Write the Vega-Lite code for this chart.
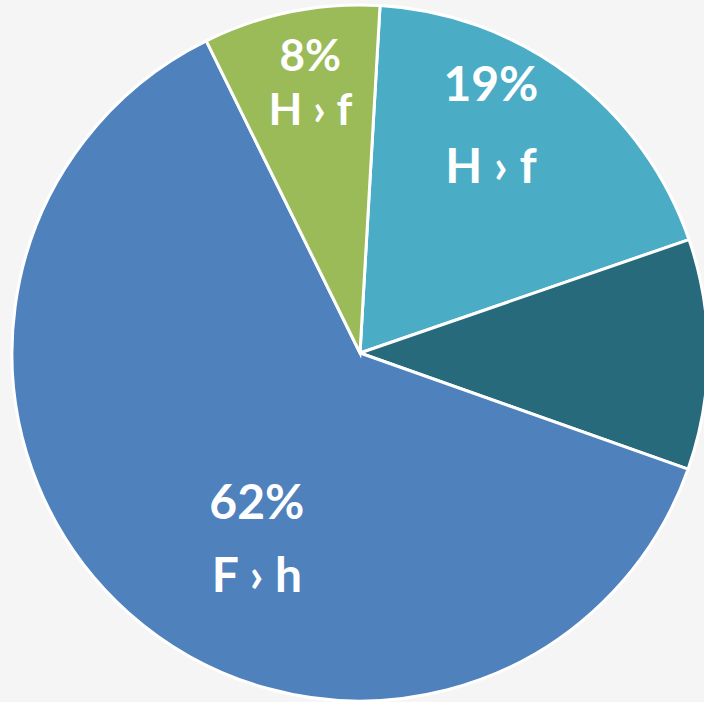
{
  "$schema": "https://vega.github.io/schema/vega-lite/v6.json",
  "autosize": "none",
  "padding": {"left": 16, "top": 4, "right": 0, "bottom": 0},
  "width": 688,
  "height": 698,
  "background": "#f5f5f5",
  "config": {"view": {"stroke": null}},
  "data": {
    "values": [
      {"slice": "S1", "idx": 1, "value": 18.8, "txt": "19%\nH › f"},
      {"slice": "S2", "idx": 2, "value": 10.7, "txt": ""},
      {"slice": "S3", "idx": 3, "value": 62.3, "txt": "62%\nF › h"},
      {"slice": "S4", "idx": 4, "value": 8.2, "txt": "8%\nH › f"}
    ]
  },
  "encoding": {
    "theta": {"field": "value", "type": "quantitative", "stack": true, "scale": {"range": [0.0576, 6.3408]}},
    "order": {"field": "idx", "type": "quantitative"}
  },
  "layer": [
    {
      "mark": {"type": "arc", "outerRadius": 348, "stroke": "#ffffff", "strokeWidth": 3},
      "encoding": {
        "color": {"field": "slice", "type": "nominal", "legend": null,
          "scale": {"domain": ["S1", "S2", "S3", "S4"], "range": ["#4bacc6", "#276a7c", "#4f81bd", "#9bbb59"]}}
      }
    },
    {
      "mark": {"type": "text", "radius": 250, "dx": -20, "dy": -67, "font": "Lato", "fontWeight": "bold", "fontSize": 48, "color": "#ffffff", "lineBreak": "\n", "lineHeight": 82, "align": "center", "baseline": "middle"},
      "encoding": {"text": {"condition": {"test": "datum.slice === 'S1'", "field": "txt"}, "value": ""}}
    },
    {
      "mark": {"type": "text", "radius": 250, "dx": 63, "dy": -35, "font": "Lato", "fontWeight": "bold", "fontSize": 48, "color": "#ffffff", "lineBreak": "\n", "lineHeight": 73, "align": "center", "baseline": "middle"},
      "encoding": {"text": {"condition": {"test": "datum.slice === 'S3'", "field": "txt"}, "value": ""}}
    },
    {
      "mark": {"type": "text", "radius": 250, "dx": 0, "dy": -50, "font": "Lato", "fontWeight": "bold", "fontSize": 44, "color": "#ffffff", "lineBreak": "\n", "lineHeight": 54, "align": "center", "baseline": "middle"},
      "encoding": {"text": {"condition": {"test": "datum.slice === 'S4'", "field": "txt"}, "value": ""}}
    }
  ]
}
